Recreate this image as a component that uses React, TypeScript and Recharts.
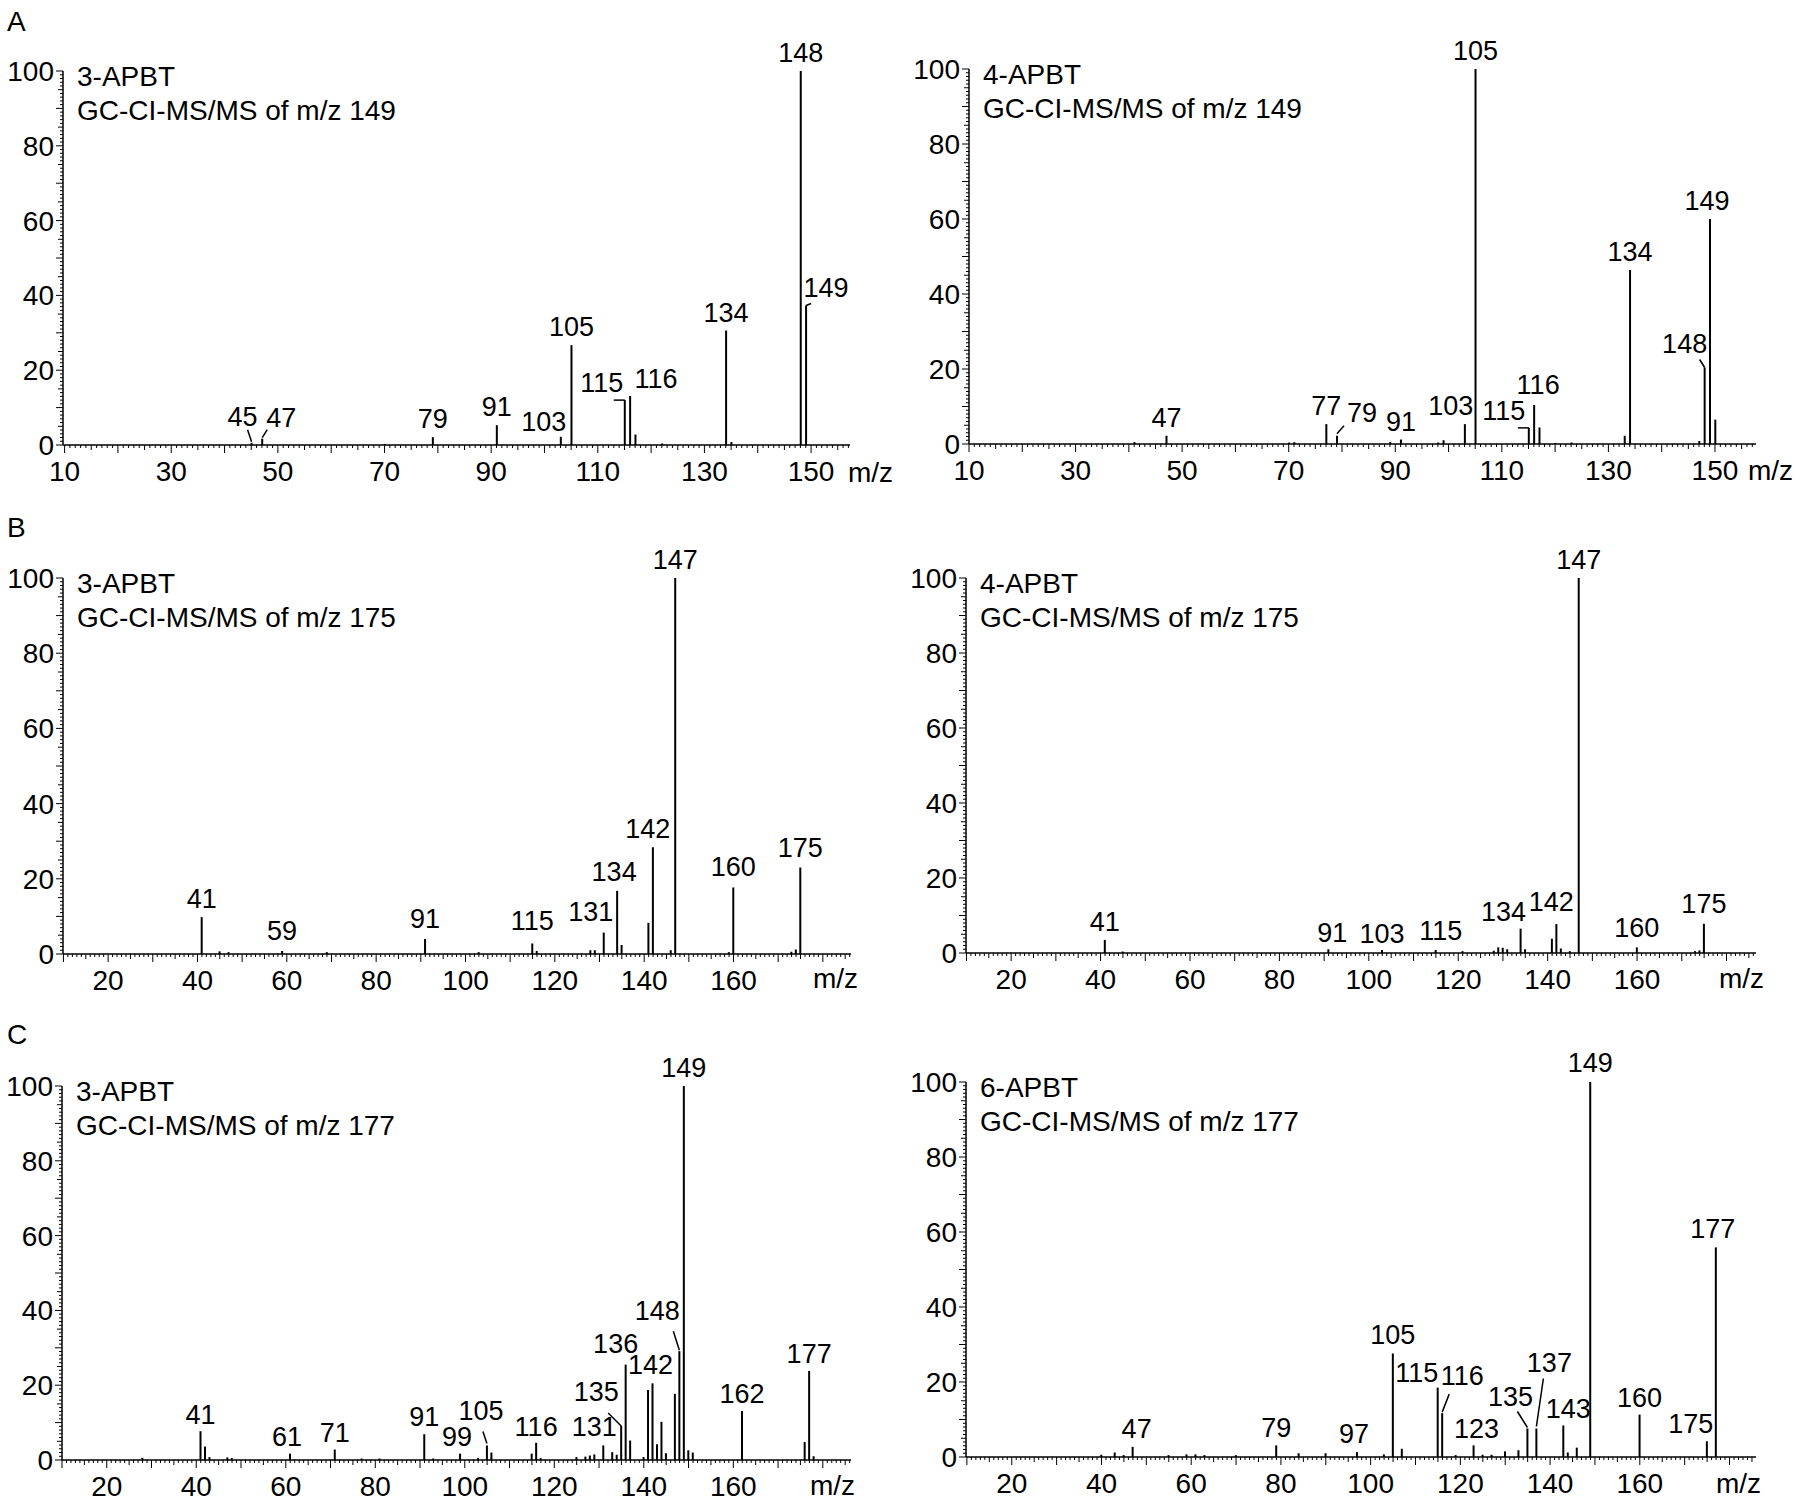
import React from 'react'
import { BarChart, Bar, XAxis, YAxis, LabelList } from 'recharts'

const FONT = '"Liberation Sans", Arial, Helvetica, sans-serif'

// A – GC-CI-MS/MS of m/z 149
const aLeftMz = [45, 47, 70, 79, 91, 103, 105, 115, 116, 117, 122, 134, 135, 148, 149]
const aLeftInt = [0.6, 1.7, 0.3, 2.1, 5.3, 2.2, 26.7, 12.0, 13.1, 2.8, 0.4, 30.6, 0.8, 100, 37.3]
const aLeftLabels = [45, 47, 79, 91, 103, 105, 115, 116, 134, 148, 149]

const aRightMz = [41, 47, 70, 71, 77, 79, 89, 91, 98, 99, 103, 105, 115, 116, 117, 120, 123, 133, 134, 147, 148, 149, 150]
const aRightInt = [0.5, 2.2, 0.4, 0.5, 5.3, 2.2, 0.5, 1.2, 0.4, 1.0, 5.3, 100, 4.3, 10.4, 4.4, 0.3, 0.4, 2.2, 46.4, 0.8, 20.4, 60, 6.5]
const aRightLabels = [47, 77, 79, 91, 103, 105, 115, 116, 134, 148, 149]

// B – GC-CI-MS/MS of m/z 175
const bLeftMz = [41, 45, 47, 59, 69, 91, 103, 115, 116, 128, 129, 131, 134, 135, 141, 142, 146, 147, 159, 160, 173, 174, 175]
const bLeftInt = [9.8, 0.7, 0.5, 0.8, 0.5, 4.0, 0.5, 2.8, 0.8, 1.0, 1.0, 5.7, 16.8, 2.4, 8.3, 28.4, 1.0, 100, 0.5, 17.7, 0.6, 1.2, 23.0]
const bLeftLabels = [41, 59, 91, 115, 131, 134, 142, 147, 160, 175]

const bRightMz = [41, 45, 91, 103, 115, 121, 128, 129, 130, 131, 134, 135, 141, 142, 143, 145, 147, 160, 173, 174, 175]
const bRightInt = [3.5, 0.4, 1.0, 0.8, 0.8, 0.5, 0.6, 1.5, 1.4, 1.0, 6.5, 1.0, 3.8, 7.7, 1.2, 0.5, 100, 1.5, 0.5, 0.7, 7.8]
const bRightLabels = [41, 91, 103, 115, 134, 142, 147, 160, 175]

// C – GC-CI-MS/MS of m/z 177
const cLeftMz = [28, 41, 42, 43, 47, 48, 61, 71, 77, 81, 91, 93, 99, 103, 105, 106, 115, 116, 117, 125, 127, 128, 129, 131, 133, 134, 135, 136, 137, 140, 141, 142, 143, 144, 145, 147, 148, 149, 150, 151, 162, 176, 177, 178]
const cLeftInt = [0.6, 7.7, 3.6, 0.8, 0.7, 0.5, 1.7, 2.8, 0.4, 0.4, 6.9, 0.4, 1.7, 0.5, 3.9, 2.0, 1.7, 4.6, 0.5, 0.8, 0.9, 1.2, 1.5, 3.9, 2.1, 1.4, 9.1, 25.5, 5.2, 0.8, 18.7, 20.5, 4.2, 10.2, 1.8, 17.7, 29.1, 100, 2.6, 2.0, 13.1, 4.8, 23.8, 1.0]
const cLeftLabels = [41, 61, 71, 91, 99, 105, 116, 131, 135, 136, 142, 148, 149, 162, 177]

const cRightMz = [40, 43, 45, 47, 55, 59, 61, 63, 70, 79, 84, 90, 97, 103, 105, 107, 115, 116, 119, 123, 125, 127, 130, 133, 135, 137, 143, 144, 146, 149, 160, 175, 177]
const cRightInt = [0.6, 1.2, 0.5, 2.7, 0.5, 0.7, 0.7, 0.5, 0.5, 3.1, 1.0, 1.0, 1.3, 0.7, 27.6, 2.2, 18.5, 11.7, 0.5, 3.1, 0.6, 0.6, 1.5, 1.8, 7.6, 7.6, 8.4, 1.2, 2.5, 100, 11.3, 4.2, 55.9]
const cRightLabels = [47, 79, 97, 105, 115, 116, 123, 135, 137, 143, 149, 160, 175, 177]

const aTickLabels = [10, 30, 50, 70, 90, 110, 130, 150]
const bcTickLabels = [20, 40, 60, 80, 100, 120, 140, 160]
const yTickLabels = [0, 20, 40, 60, 80, 100]

// label placement tweaks (dx, lift above peak top, optional leader line relative to peak top)
type Nudge = { dx?: number; lift?: number; line?: [number, number, number, number] }

const aLeftNudge: Record<number, Nudge> = {
  45: { dx: -9, lift: 17, line: [-4, -13, 0, -1] },
  47: { dx: 19, lift: 12, line: [5, -9, 0, -1] },
  103: { dx: -17, lift: 6 },
  115: { dx: -23, lift: 8, line: [-11, 0, 0, 0] },
  116: { dx: 26, lift: 8 },
  149: { dx: 20, lift: 8, line: [0, 0, 5, -2] }
}
const aRightNudge: Record<number, Nudge> = {
  79: { dx: 25, lift: 14, line: [7, -10, 0, -2] },
  103: { dx: -14 },
  115: { dx: -25, lift: 8, line: [-11, 0, 0, 0] },
  116: { dx: 4, lift: 11 },
  148: { dx: -20, lift: 15, line: [-5, -8, 0, 0] },
  149: { dx: -3 }
}
const bLeftNudge: Record<number, Nudge> = {
  59: { lift: 11 },
  91: { lift: 11 },
  115: { lift: 13 },
  131: { dx: -13, lift: 12 },
  134: { dx: -3, lift: 10 },
  142: { dx: -5 },
  160: { lift: 11 },
  175: { lift: 11 }
}
const bRightNudge: Record<number, Nudge> = {
  91: { dx: 4, lift: 7 },
  103: { lift: 7 },
  115: { dx: 5, lift: 10 },
  134: { dx: -17, lift: 8 },
  142: { dx: -5, lift: 13 },
  160: { lift: 10 },
  175: { lift: 11 }
}
const cLeftNudge: Record<number, Nudge> = {
  41: { lift: 7 },
  61: { dx: -3, lift: 8 },
  71: { lift: 8 },
  91: { lift: 8 },
  99: { dx: -3, lift: 8 },
  105: { dx: -6, lift: 25, line: [-4, -14, 0, -2] },
  116: { lift: 7 },
  131: { dx: -9 },
  135: { dx: -25, lift: 25, line: [-13, -13, 0, 0] },
  136: { dx: -10, lift: 12 },
  142: { dx: -2 },
  148: { dx: -22, lift: 31, line: [-6, -20, 0, -1] },
  162: { lift: 8 },
  177: { lift: 8 }
}
const cRightNudge: Record<number, Nudge> = {
  47: { dx: 4 },
  79: { lift: 8 },
  97: { dx: -3 },
  105: { lift: 10 },
  115: { dx: -21, lift: 6 },
  116: { dx: 20, lift: 28, line: [7, -19, 0, -1] },
  123: { dx: 3, lift: 7 },
  135: { dx: -17, lift: 23, line: [-10, -17, 0, -1] },
  137: { dx: 13, lift: 57, line: [7, -50, 0, -2] },
  143: { dx: 5, lift: 8 },
  149: { lift: 10 },
  160: { lift: 8 },
  175: { dx: -16, lift: 8 },
  177: { dx: -3 }
}

const range = (a: number, b: number) => Array.from({ length: b - a + 1 }, (_, i) => a + i)

const panels = [
  { id: 'aL', mz: aLeftMz, ints: aLeftInt, labels: aLeftLabels, nudge: aLeftNudge, tickLabels: aTickLabels, ticks: range(10, 157), domain: [9.7, 157.3], left: 63, top: 71, w: 787, h: 374, title: ['3-APBT', 'GC-CI-MS/MS of m/z 149'], mzX: 848, mzY: 482 },
  { id: 'aR', mz: aRightMz, ints: aRightInt, labels: aRightLabels, nudge: aRightNudge, tickLabels: aTickLabels, ticks: range(10, 157), domain: [10, 157.7], left: 969, top: 69, w: 787, h: 375, title: ['4-APBT', 'GC-CI-MS/MS of m/z 149'], mzX: 1748, mzY: 480 },
  { id: 'bL', mz: bLeftMz, ints: bLeftInt, labels: bLeftLabels, nudge: bLeftNudge, tickLabels: bcTickLabels, ticks: range(10, 186), domain: [9.9, 186.3], left: 63, top: 578, w: 788, h: 376, title: ['3-APBT', 'GC-CI-MS/MS of m/z 175'], mzX: 813, mzY: 988 },
  { id: 'bR', mz: bRightMz, ints: bRightInt, labels: bRightLabels, nudge: bRightNudge, tickLabels: bcTickLabels, ticks: range(10, 186), domain: [9.9, 186.6], left: 966, top: 578, w: 790, h: 375, title: ['4-APBT', 'GC-CI-MS/MS of m/z 175'], mzX: 1719, mzY: 988 },
  { id: 'cL', mz: cLeftMz, ints: cLeftInt, labels: cLeftLabels, nudge: cLeftNudge, tickLabels: bcTickLabels, ticks: range(10, 186), domain: [10, 186.3], left: 62, top: 1086, w: 789, h: 374, title: ['3-APBT', 'GC-CI-MS/MS of m/z 177'], mzX: 810, mzY: 1495 },
  { id: 'cR', mz: cRightMz, ints: cRightInt, labels: cRightLabels, nudge: cRightNudge, tickLabels: bcTickLabels, ticks: range(10, 185), domain: [9.8, 185.9], left: 966, top: 1082, w: 790, h: 375, title: ['6-APBT', 'GC-CI-MS/MS of m/z 177'], mzX: 1716, mzY: 1493 }
]

const letters = [
  { t: 'A', x: 7, y: 31 },
  { t: 'B', x: 7, y: 537 },
  { t: 'C', x: 7, y: 1044 }
]

const XTick = ({ x, y, payload, labels }: any) => {
  const v = payload.value
  const len = v % 10 === 0 ? 8 : v % 5 === 0 ? 5 : 3
  return (
    <g>
      <line x1={x} x2={x} y1={y} y2={y + len} stroke="#000" strokeWidth={1} />
      {labels.includes(v) && (
        <text x={x} y={y + 36} textAnchor="middle" fontSize={28} fontFamily={FONT} fill="#000">
          {v}
        </text>
      )}
    </g>
  )
}

const YTick = ({ x, y, payload }: any) => {
  const v = payload.value
  const len = v % 10 === 0 ? 7 : v % 5 === 0 ? 5 : 3
  return (
    <g>
      <line x1={x - len} x2={x} y1={y} y2={y} stroke="#000" strokeWidth={1} />
      {yTickLabels.includes(v) && (
        <text x={x - 9} y={y + 10} textAnchor="end" fontSize={28} fontFamily={FONT} fill="#000">
          {v}
        </text>
      )}
    </g>
  )
}

const makeLabel = (labels: number[], nudges: Record<number, Nudge>) => (props: any) => {
  const vb = props.viewBox || {}
  const x = props.x ?? vb.x
  const y = props.y ?? vb.y
  const w = props.width ?? vb.width ?? 0
  const mz = Number(props.value)
  if (!labels.includes(mz) || x == null || y == null) return null
  const n = nudges[mz] || {}
  const cx = x + w / 2
  const lift = n.lift ?? 9
  return (
    <g>
      {n.line && (
        <line
          x1={cx + n.line[0]}
          y1={y + n.line[1]}
          x2={cx + n.line[2]}
          y2={y + n.line[3]}
          stroke="#000"
          strokeWidth={1.5}
        />
      )}
      <text x={cx + (n.dx || 0)} y={y - lift} textAnchor="middle" fontSize={27} fontFamily={FONT} fill="#000">
        {mz}
      </text>
    </g>
  )
}

const ML = 70
const MT = 90
const MR = 60
const XH = 50

const Spectrum = ({ p }: { p: (typeof panels)[number] }) => {
  const data = p.mz.map((m, i) => ({ mz: m, int: p.ints[i] }))
  const width = p.w + ML + MR
  const height = p.h + MT + XH + 10
  return (
    <div style={{ position: 'absolute', left: p.left - ML, top: p.top - MT }}>
      <BarChart width={width} height={height} data={data} margin={{ top: MT, right: MR, bottom: 10, left: 10 }}>
        <XAxis
          type="number"
          dataKey="mz"
          domain={p.domain}
          allowDataOverflow
          ticks={p.ticks}
          interval={0}
          tickSize={0}
          tickMargin={0}
          height={XH}
          axisLine={{ stroke: '#000', strokeWidth: 1.5 }}
          tick={(t: any) => <XTick {...t} labels={p.tickLabels} />}
        />
        <YAxis
          type="number"
          domain={[0, 100]}
          allowDataOverflow
          ticks={range(0, 100)}
          interval={0}
          width={60}
          tickSize={0}
          tickMargin={0}
          axisLine={{ stroke: '#000', strokeWidth: 1.5 }}
          tick={(t: any) => <YTick {...t} />}
        />
        <Bar dataKey="int" fill="#000" barSize={2} isAnimationActive={false}>
          <LabelList dataKey="mz" content={makeLabel(p.labels, p.nudge)} />
        </Bar>
      </BarChart>
    </div>
  )
}

export default function App() {
  return (
    <div style={{ position: 'absolute', left: 0, top: 0, width: 1800, height: 1503, background: '#fff', overflow: 'hidden' }}>
      {panels.map(p => (
        <Spectrum key={p.id} p={p} />
      ))}
      <svg width={1800} height={1503} style={{ position: 'absolute', left: 0, top: 0, pointerEvents: 'none' }}>
        {letters.map(l => (
          <text key={l.t} x={l.x} y={l.y} fontSize={28} fontFamily={FONT} fill="#000">
            {l.t}
          </text>
        ))}
        {panels.map(p => (
          <g key={p.id}>
            <text x={p.left + 14} y={p.top + 15} fontSize={28} fontFamily={FONT} fill="#000">
              {p.title[0]}
            </text>
            <text x={p.left + 14} y={p.top + 49} fontSize={28} fontFamily={FONT} fill="#000">
              {p.title[1]}
            </text>
            <text x={p.mzX} y={p.mzY} fontSize={28} fontFamily={FONT} fill="#000">
              m/z
            </text>
          </g>
        ))}
      </svg>
    </div>
  )
}
